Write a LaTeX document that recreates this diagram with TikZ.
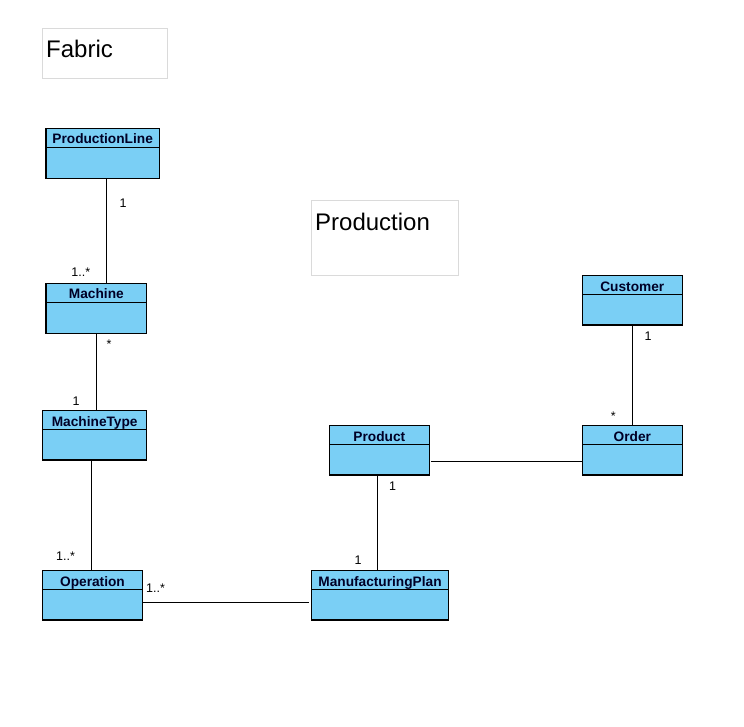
\documentclass[tikz,border=0pt]{standalone}
\usepackage{fontspec}
\setmainfont{Liberation Sans}
\definecolor{clsfill}{RGB}{122,207,245}
\definecolor{pkgline}{RGB}{218,218,218}
\begin{document}
\begin{tikzpicture}[x=1pt,y=-1pt,
  clsbox/.style={draw=black,line width=1.2pt,fill=clsfill,inner sep=0pt,outer sep=0pt},
  clsline/.style={draw=black,line width=1.1pt},
  clstitle/.style={font=\fontsize{13.7}{15}\selectfont\bfseries,text=black!85!blue,anchor=base,inner sep=0pt},
  pkgbox/.style={draw=pkgline,line width=0.8pt,fill=white,inner sep=0pt,outer sep=0pt},
  pkgtitle/.style={font=\fontsize{24}{28}\selectfont,anchor=base west,inner sep=0pt},
  mult/.style={font=\fontsize{12.5}{14}\selectfont,anchor=base,inner sep=0pt},
  assoc/.style={draw=black,line width=1pt}]
\useasboundingbox (0,0) rectangle (744,726);
\fill[white] (0,0) rectangle (744,726);
\newcommand\umlclass[6]{%
  \node[clsbox,minimum width={#4-#2},minimum height={#5-#3},anchor=north west] (#1) at (#2,#3) {};
  \draw[clsline] ([yshift=-18.8pt]#1.north west) -- ([yshift=-18.8pt]#1.north east);
  \node[clstitle] (#1-t) at ([yshift=-15.3pt]#1.north) {#6};
}
% packages
\node[pkgbox,minimum width=125,minimum height=50,anchor=north west] (fab) at (42,28) {};
\node[pkgtitle] (fab-t) at (46,57) {Fabric};
\node[pkgbox,minimum width=147,minimum height=75,anchor=north west] (prod) at (311,200) {};
\node[pkgtitle] (prod-t) at (315,230) {Production};
% classes
\umlclass{pl}{46}{128.3}{159.3}{178.3}{ProductionLine}
\umlclass{m}{46}{283.3}{146.7}{333.3}{Machine}
\umlclass{mt}{42.7}{410.7}{146.7}{460}{MachineType}
\umlclass{op}{42.7}{570.7}{142.3}{620}{Operation}
\umlclass{mp}{311.7}{570.7}{448.3}{620}{ManufacturingPlan}
\umlclass{pr}{329.3}{425.7}{429.3}{475}{Product}
\umlclass{or}{582.3}{425.7}{682.3}{475}{Order}
\umlclass{cu}{582.3}{275.7}{682.3}{325}{Customer}
% associations
\draw[assoc] ([xshift=4pt]pl.south) -- ([xshift=10.3pt]m.north);
\draw[assoc] ([xshift=0.35pt]m.south) -- ([xshift=2pt]mt.north);
\draw[assoc] ([xshift=-3.2pt]mt.south) -- ([xshift=-1pt]op.north);
\draw[assoc] ([yshift=-7.35pt]op.east) -- ([xshift=-2.5pt,yshift=-7.35pt]mp.west);
\draw[assoc] ([xshift=-2pt]pr.south) -- ([xshift=-2.7pt]mp.north);
\draw[assoc] ([xshift=2pt,yshift=-11.35pt]pr.east) -- ([yshift=-11.35pt]or.west);
\draw[assoc] (cu.south) -- (or.north);
% multiplicities
\node[mult] (l1) at (123,207.5) {1};
\node[mult] (l2) at (80.8,276) {1..*};
\node[mult] (l3) at (109,348) {*};
\node[mult] (l4) at (76,405) {1};
\node[mult] (l5) at (65.5,560.5) {1..*};
\node[mult] (l6) at (155.5,592.5) {1..*};
\node[mult] (l7) at (358,564.5) {1};
\node[mult] (l8) at (392.7,490.5) {1};
\node[mult] (l9) at (648,340.5) {1};
\node[mult] (l10) at (613.3,420) {*};
\end{tikzpicture}
\end{document}
